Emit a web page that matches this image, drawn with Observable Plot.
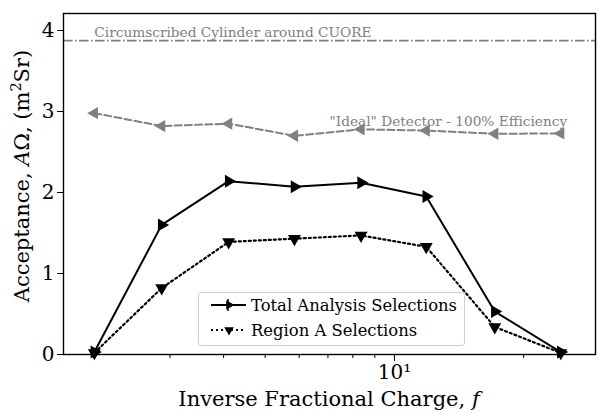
<!DOCTYPE html>
<html><head><meta charset="utf-8">
<script src="https://cdn.jsdelivr.net/npm/d3@7"></script>
<script src="https://cdn.jsdelivr.net/npm/@observablehq/plot@0.6"></script>
<style>
body{margin:0;background:#fff;}
#wrap{position:relative;width:597px;height:414px;font-family:"DejaVu Serif",serif;}
#legend{position:absolute;left:198px;top:292px;}
svg text{font-family:"DejaVu Serif",serif;}
</style></head>
<body><div id="wrap"><div id="chart"></div><div id="legend"></div></div>
<script>
const fValues = [2, 2.87, 4.11, 5.85, 8.36, 11.86, 17.13, 24.4];
const totalSel = [0.03, 1.60, 2.14, 2.07, 2.12, 1.95, 0.53, 0.03];
const regionA = [0.02, 0.82, 1.39, 1.43, 1.47, 1.33, 0.34, 0.02];
const ideal = [2.98, 2.82, 2.85, 2.70, 2.78, 2.765, 2.725, 2.73];
const cylinder = 3.875;
const seriesNames = ["Total Analysis Selections", "Region A Selections"];
const annotations = ["Circumscribed Cylinder around CUORE", "\"Ideal\" Detector - 100% Efficiency"];
const majorTicksX = [10];
const minorTicksX = [2, 3, 4, 5, 6, 7, 8, 9, 20];
const yTicks = [0, 1, 2, 3, 4];

const GRAY = "#808080";
const FONT = '"DejaVu Serif", serif';
const rows = ys => fValues.map((f, i) => ({f, v: ys[i]}));

const W = 597, H = 414, ML = 63, MR = 2, MT = 13, MB = 60;

const plot = Plot.plot({
  width: W, height: H,
  marginLeft: ML, marginRight: MR, marginTop: MT, marginBottom: MB,
  style: {fontFamily: FONT, fontSize: "20px", background: "white", color: "black"},
  x: {type: "log", domain: [1.695, 29.4]},
  y: {domain: [0, 4.21]},
  marks: [
    Plot.ruleY([cylinder], {stroke: GRAY, strokeWidth: 1.6, strokeDasharray: "9.6,2.4,1.6,2.4"}),
    Plot.text([annotations[0]], {x: 2.0, y: cylinder, dy: -4, textAnchor: "start", lineAnchor: "bottom", fill: GRAY, fontSize: 13.7, fontFamily: FONT}),
    Plot.text([annotations[1]], {x: 7.06, y: 2.85, dy: 2, textAnchor: "start", lineAnchor: "bottom", fill: GRAY, fontSize: 13.7, fontFamily: FONT}),
    Plot.line(rows(ideal), {x: "f", y: "v", stroke: GRAY, strokeWidth: 2, strokeDasharray: "7,3.2"}),
    Plot.dot(rows(ideal), {x: "f", y: "v", symbol: "triangle", rotate: -90, r: 4.6, fill: GRAY, stroke: "none"}),
    Plot.line(rows(regionA), {x: "f", y: "v", stroke: "black", strokeWidth: 2.2, strokeDasharray: "2,3"}),
    Plot.dot(rows(regionA), {x: "f", y: "v", symbol: "triangle", rotate: 180, r: 4.8, fill: "black", stroke: "none"}),
    Plot.line(rows(totalSel), {x: "f", y: "v", stroke: "black", strokeWidth: 2}),
    Plot.dot(rows(totalSel), {x: "f", y: "v", symbol: "triangle", rotate: 90, r: 4.8, fill: "black", stroke: "none"}),
    Plot.axisX(majorTicksX, {tickSize: 7, tickPadding: 3, tickFormat: () => "10¹", label: null, fontSize: 20, fontFamily: FONT}),
    Plot.axisX(minorTicksX, {tickSize: 4, tickFormat: () => "", label: null}),
    Plot.axisY(yTicks, {tickSize: 6, tickPadding: 3, tickFormat: d => String(d), label: null, fontSize: 20, fontFamily: FONT}),
    Plot.frame({stroke: "black", strokeWidth: 1.4})
  ]
});

const svg = d3.select(plot);
// x axis label
const xl = svg.append("text")
  .attr("x", (ML + W - MR) / 2).attr("y", 406)
  .attr("text-anchor", "middle")
  .attr("font-family", FONT).attr("font-size", 21).attr("fill", "black");
xl.append("tspan").text("Inverse Fractional Charge, ");
xl.append("tspan").attr("font-style", "italic").text("f");
// y axis label
const yl = svg.append("text")
  .attr("transform", `translate(29,176) rotate(-90)`)
  .attr("text-anchor", "middle")
  .attr("font-family", FONT).attr("font-size", 21).attr("fill", "black");
yl.append("tspan").text("Acceptance, ");
yl.append("tspan").attr("font-style", "italic").text("A");
yl.append("tspan").text("Ω, (m");
yl.append("tspan").attr("font-size", 14.5).attr("dy", -8).text("2");
yl.append("tspan").attr("dy", 8).text("Sr)");

document.getElementById("chart").appendChild(plot);

// legend
const lg = d3.select("#legend").append("svg").attr("width", 268).attr("height", 55);
lg.append("rect").attr("x", 0.5).attr("y", 0.5).attr("width", 266).attr("height", 53)
  .attr("rx", 3).attr("fill", "rgba(255,255,255,0.85)").attr("stroke", "#cccccc");
const tri = (cx, cy, r, rot) => {
  const pts = d3.range(3).map(k => {
    const a = (rot + k * 120 - 90) * Math.PI / 180;
    return [cx + r * Math.cos(a), cy + r * Math.sin(a)];
  });
  return "M" + pts.map(p => p.join(",")).join("L") + "Z";
};
const legendRows = [
  {name: seriesNames[0], dash: null, rot: 90, y: 13},
  {name: seriesNames[1], dash: "2,3", rot: 180, y: 38}
];
legendRows.forEach(r => {
  lg.append("line").attr("x1", 13).attr("x2", 48).attr("y1", r.y).attr("y2", r.y)
    .attr("stroke", "black").attr("stroke-width", 2).attr("stroke-dasharray", r.dash);
  lg.append("path").attr("d", tri(31, r.y, 5.5, r.rot)).attr("fill", "black");
  if (r.rot === 90) lg.append("line").attr("x1", 30).attr("x2", 30).attr("y1", r.y - 6).attr("y2", r.y + 6).attr("stroke", "black").attr("stroke-width", 1.5);
  lg.append("text").attr("x", 53).attr("y", r.y).attr("dy", "0.35em")
    .attr("font-family", FONT).attr("font-size", 16.4).attr("fill", "black").text(r.name);
});
</script>
</body></html>
